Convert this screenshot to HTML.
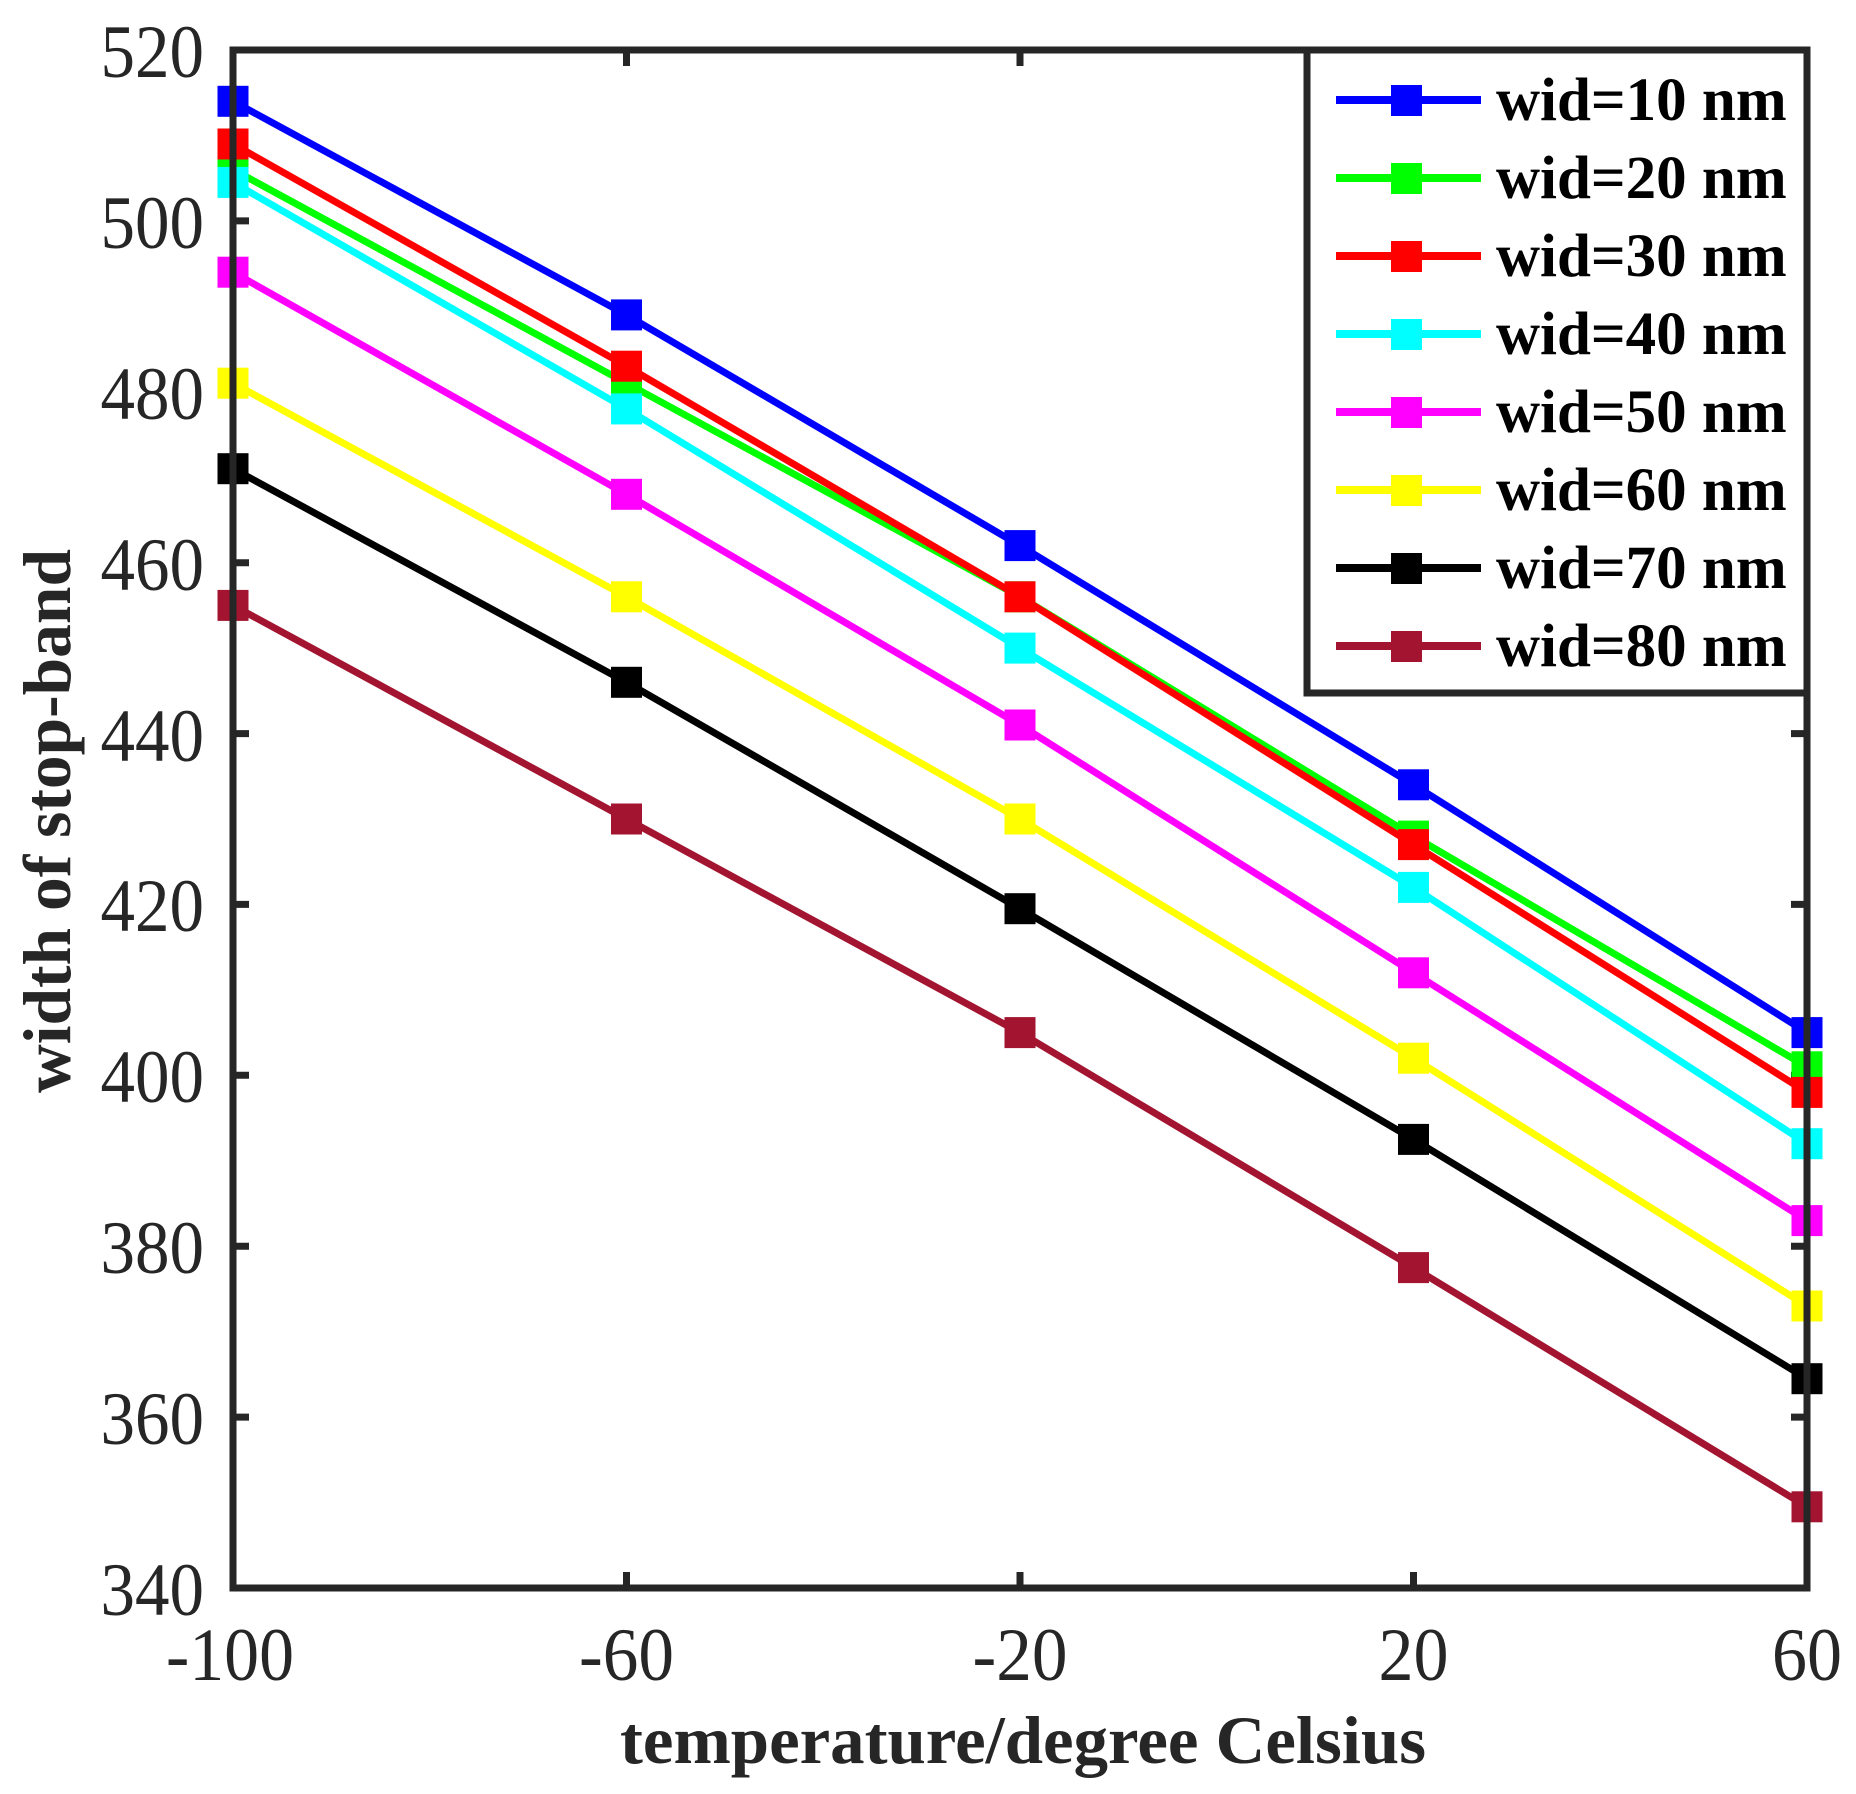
<!DOCTYPE html>
<html><head><meta charset="utf-8"><style>
html,body{margin:0;padding:0;background:#fff;}
svg{display:block;}
.t{font-family:"Liberation Serif",serif;font-size:75px;fill:#262626;}
.b{font-family:"Liberation Serif",serif;font-weight:bold;font-size:68px;fill:#262626;}
.lg{font-family:"Liberation Serif",serif;font-weight:bold;font-size:61px;fill:#000;}
</style></head><body>
<svg width="1856" height="1794" viewBox="0 0 1856 1794" xmlns="http://www.w3.org/2000/svg">
<rect width="1856" height="1794" fill="#fff"/>
<g stroke="#262626" stroke-width="7">
<path d="M233 1588v-16M626.5 1588v-16M1020 1588v-16M1413.5 1588v-16M1807 1588v-16M233 50v16M626.5 50v16M1020 50v16M1413.5 50v16M1807 50v16"/>
<path d="M233 1417.1h16M233 1246.2h16M233 1075.3h16M233 904.4h16M233 733.6h16M233 562.7h16M233 391.8h16M233 220.9h16M1807 1417.1h-16M1807 1246.2h-16M1807 1075.3h-16M1807 904.4h-16M1807 733.6h-16M1807 562.7h-16M1807 391.8h-16M1807 220.9h-16"/>
</g>
<g fill="none" stroke-width="7" stroke-linejoin="round">
<polyline stroke="#0000ff" points="233,101.3 626.5,314.9 1020,545.6 1413.5,784.8 1807,1032.6"/>
<polyline stroke="#00ff00" points="233,169.6 626.5,383.2 1020,596.8 1413.5,836.1 1807,1066.8"/>
<polyline stroke="#ff0000" points="233,144 626.5,366.2 1020,596.8 1413.5,844.6 1807,1092.4"/>
<polyline stroke="#00ffff" points="233,182.4 626.5,408.9 1020,648.1 1413.5,887.4 1807,1143.7"/>
<polyline stroke="#ff00ff" points="233,272.2 626.5,494.3 1020,725 1413.5,972.8 1807,1220.6"/>
<polyline stroke="#ffff00" points="233,383.2 626.5,596.8 1020,819 1413.5,1058.2 1807,1306"/>
<polyline stroke="#000000" points="233,468.7 626.5,682.3 1020,908.7 1413.5,1139.4 1807,1378.7"/>
<polyline stroke="#a2142f" points="233,605.4 626.5,819 1020,1032.6 1413.5,1267.6 1807,1506.8"/>
</g>
<g transform="translate(-15.5 -15.5)">
<g fill="#0000ff"><rect x="233" y="101.3" width="31" height="31"/><rect x="626.5" y="314.9" width="31" height="31"/><rect x="1020" y="545.6" width="31" height="31"/><rect x="1413.5" y="784.8" width="31" height="31"/><rect x="1807" y="1032.6" width="31" height="31"/></g>
<g fill="#00ff00"><rect x="233" y="169.6" width="31" height="31"/><rect x="626.5" y="383.2" width="31" height="31"/><rect x="1020" y="596.8" width="31" height="31"/><rect x="1413.5" y="836.1" width="31" height="31"/><rect x="1807" y="1066.8" width="31" height="31"/></g>
<g fill="#ff0000"><rect x="233" y="144" width="31" height="31"/><rect x="626.5" y="366.2" width="31" height="31"/><rect x="1020" y="596.8" width="31" height="31"/><rect x="1413.5" y="844.6" width="31" height="31"/><rect x="1807" y="1092.4" width="31" height="31"/></g>
<g fill="#00ffff"><rect x="233" y="182.4" width="31" height="31"/><rect x="626.5" y="408.9" width="31" height="31"/><rect x="1020" y="648.1" width="31" height="31"/><rect x="1413.5" y="887.4" width="31" height="31"/><rect x="1807" y="1143.7" width="31" height="31"/></g>
<g fill="#ff00ff"><rect x="233" y="272.2" width="31" height="31"/><rect x="626.5" y="494.3" width="31" height="31"/><rect x="1020" y="725" width="31" height="31"/><rect x="1413.5" y="972.8" width="31" height="31"/><rect x="1807" y="1220.6" width="31" height="31"/></g>
<g fill="#ffff00"><rect x="233" y="383.2" width="31" height="31"/><rect x="626.5" y="596.8" width="31" height="31"/><rect x="1020" y="819" width="31" height="31"/><rect x="1413.5" y="1058.2" width="31" height="31"/><rect x="1807" y="1306" width="31" height="31"/></g>
<g fill="#000000"><rect x="233" y="468.7" width="31" height="31"/><rect x="626.5" y="682.3" width="31" height="31"/><rect x="1020" y="908.7" width="31" height="31"/><rect x="1413.5" y="1139.4" width="31" height="31"/><rect x="1807" y="1378.7" width="31" height="31"/></g>
<g fill="#a2142f"><rect x="233" y="605.4" width="31" height="31"/><rect x="626.5" y="819" width="31" height="31"/><rect x="1020" y="1032.6" width="31" height="31"/><rect x="1413.5" y="1267.6" width="31" height="31"/><rect x="1807" y="1506.8" width="31" height="31"/></g>
</g>
<rect x="233" y="50" width="1574" height="1538" fill="none" stroke="#262626" stroke-width="7"/>
<!-- legend -->
<rect x="1307" y="50" width="500" height="643" fill="#fff" stroke="#262626" stroke-width="7"/>
<g stroke-width="8">
<line x1="1336" x2="1481" y1="100" y2="100" stroke="#0000ff"/>
<line x1="1336" x2="1481" y1="178" y2="178" stroke="#00ff00"/>
<line x1="1336" x2="1481" y1="256" y2="256" stroke="#ff0000"/>
<line x1="1336" x2="1481" y1="334" y2="334" stroke="#00ffff"/>
<line x1="1336" x2="1481" y1="412" y2="412" stroke="#ff00ff"/>
<line x1="1336" x2="1481" y1="490" y2="490" stroke="#ffff00"/>
<line x1="1336" x2="1481" y1="568" y2="568" stroke="#000000"/>
<line x1="1336" x2="1481" y1="646" y2="646" stroke="#a2142f"/>
</g>
<rect x="1391" y="85" width="31" height="31" fill="#0000ff"/>
<rect x="1391" y="163" width="31" height="31" fill="#00ff00"/>
<rect x="1391" y="241" width="31" height="31" fill="#ff0000"/>
<rect x="1391" y="319" width="31" height="31" fill="#00ffff"/>
<rect x="1391" y="397" width="31" height="31" fill="#ff00ff"/>
<rect x="1391" y="475" width="31" height="31" fill="#ffff00"/>
<rect x="1391" y="553" width="31" height="31" fill="#000000"/>
<rect x="1391" y="631" width="31" height="31" fill="#a2142f"/>
<g class="lg">
<text x="1496" y="120">wid=10 nm</text>
<text x="1496" y="198">wid=20 nm</text>
<text x="1496" y="276">wid=30 nm</text>
<text x="1496" y="354">wid=40 nm</text>
<text x="1496" y="432">wid=50 nm</text>
<text x="1496" y="510">wid=60 nm</text>
<text x="1496" y="588">wid=70 nm</text>
<text x="1496" y="666">wid=80 nm</text>
</g>
<g class="t" text-anchor="end" transform="translate(204 0) scale(0.92 1) translate(-204 0)">
<text x="204" y="1615">340</text>
<text x="204" y="1444">360</text>
<text x="204" y="1273">380</text>
<text x="204" y="1102">400</text>
<text x="204" y="931">420</text>
<text x="204" y="761">440</text>
<text x="204" y="590">460</text>
<text x="204" y="419">480</text>
<text x="204" y="248">500</text>
<text x="204" y="77">520</text>
</g>
<g class="t" text-anchor="middle">
<text x="230" y="1680" textLength="128" lengthAdjust="spacingAndGlyphs">-100</text>
<text x="626.5" y="1680" textLength="95" lengthAdjust="spacingAndGlyphs">-60</text>
<text x="1020" y="1680" textLength="95" lengthAdjust="spacingAndGlyphs">-20</text>
<text x="1413.5" y="1680" textLength="70" lengthAdjust="spacingAndGlyphs">20</text>
<text x="1807" y="1680" textLength="70" lengthAdjust="spacingAndGlyphs">60</text>
</g>
<text class="b" x="1023" y="1763" text-anchor="middle" textLength="806" lengthAdjust="spacingAndGlyphs">temperature/degree Celsius</text>
<text class="b" transform="translate(70 821) rotate(-90)" text-anchor="middle" textLength="544" lengthAdjust="spacingAndGlyphs">width of stop-band</text>
</svg>
</body></html>
